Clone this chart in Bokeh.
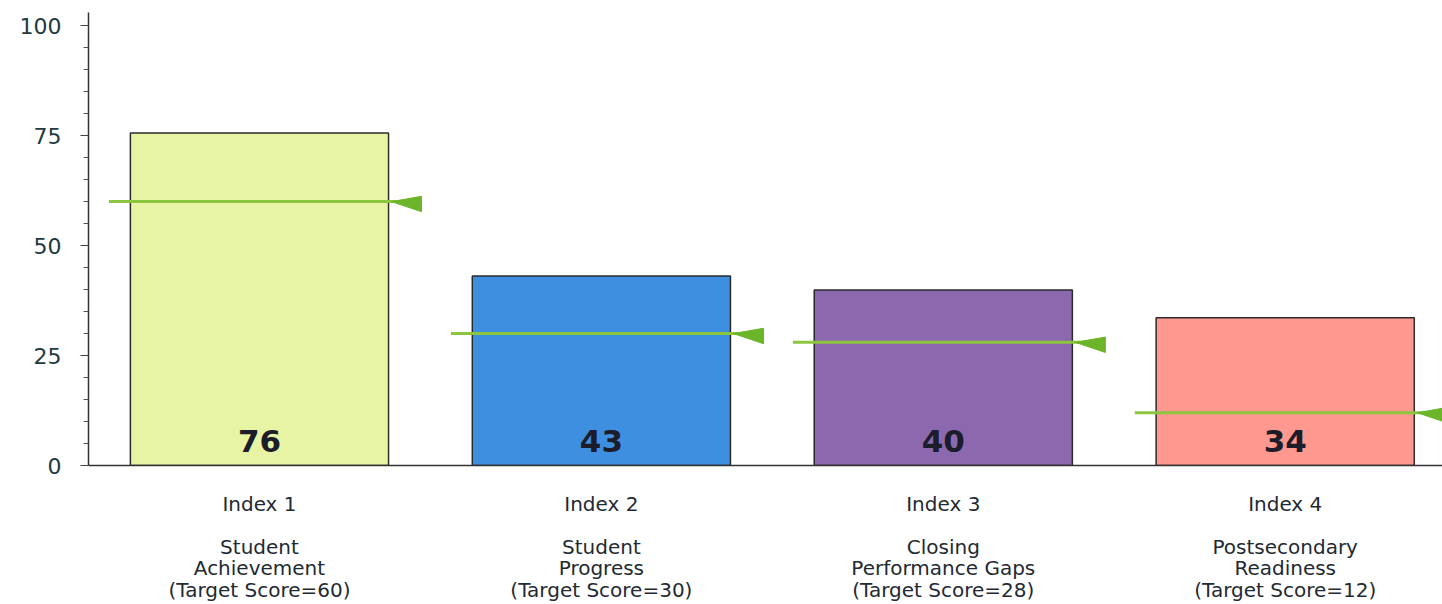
from bokeh.plotting import figure
from bokeh.models import Range1d, FixedTicker, ColumnDataSource
from bokeh.embed import file_html
from bokeh.resources import INLINE
from bokeh.core.properties import value

# ---- data ----
index_names = ["Index 1", "Index 2", "Index 3", "Index 4"]
descriptions = ["Student\nAchievement", "Student\nProgress",
                "Closing\nPerformance Gaps", "Postsecondary\nReadiness"]
scores = [75.6, 43.1, 39.9, 33.6]
score_labels = ["76", "43", "40", "34"]
targets = [60, 30, 28, 12]
bar_colors = ["#e6f4a4", "#3f8fe0", "#8c69ae", "#ff988e"]
y_ticks = [0, 25, 50, 75, 100]

positions = list(range(len(index_names)))
tick_text = {
    i: f"{index_names[i]}\n\n{descriptions[i]}\n(Target Score={targets[i]})"
    for i in positions
}

p = figure(width=1442, height=604, output_backend="svg", toolbar_location=None,
           x_range=Range1d(-0.5, 3.46), y_range=Range1d(0, 103))
p.min_border_left = 88
p.min_border_right = 0
p.min_border_top = 12
p.min_border_bottom = 139
p.outline_line_color = None
p.xgrid.grid_line_color = None
p.ygrid.grid_line_color = None
p.background_fill_color = "white"
p.border_fill_color = "white"

src = ColumnDataSource(dict(x=positions, top=scores, color=bar_colors,
                            label=score_labels))
p.vbar(x="x", top="top", bottom=0, width=0.755, fill_color="color",
       line_color="#2b2b2b", line_width=1.5, source=src)

# target lines
line_xs = [[c - 0.44, c + 0.474] for c in positions]
line_ys = [[t, t] for t in targets]
p.multi_line(line_xs, line_ys, line_color="#8cc63f", line_width=3)
tri_xs = [[c + 0.386, c + 0.474, c + 0.474] for c in positions]
tri_ys = [[t, t + 1.2, t - 2.3] for t in targets]
p.patches(tri_xs, tri_ys, fill_color="#6cb52a", line_color="#6cb52a")

p.text(x="x", y=5.6, text="label", source=src, text_align="center",
       text_baseline="middle", text_font=value("DejaVu Sans"),
       text_font_style="bold", text_font_size="31px", text_color="#1c1c2a")

# axes
yax = p.yaxis[0]
yax.ticker = FixedTicker(ticks=y_ticks,
                         minor_ticks=[v for v in range(0, 101, 5) if v % 25])
yax.axis_line_color = "#333333"
yax.axis_line_width = 1.5
yax.major_tick_in = 0
yax.major_tick_out = 8
yax.minor_tick_in = 0
yax.minor_tick_out = 5
yax.major_tick_line_color = "#444444"
yax.minor_tick_line_color = "#555555"
yax.major_label_text_font = "DejaVu Sans"
yax.major_label_text_font_size = "22px"
yax.major_label_text_color = "#1f3a40"
yax.major_label_standoff = 19

xax = p.xaxis[0]
xax.ticker = FixedTicker(ticks=positions)
xax.major_label_overrides = tick_text
xax.axis_line_color = "#333333"
xax.axis_line_width = 1.5
xax.major_tick_line_color = None
xax.minor_tick_line_color = None
xax.major_label_text_font = "DejaVu Sans"
xax.major_label_text_font_size = "20px"
xax.major_label_text_color = "#1f2a33"
xax.major_label_text_line_height = 0.9
xax.major_label_standoff = 20

open("out.html", "w").write(file_html(p, INLINE))
